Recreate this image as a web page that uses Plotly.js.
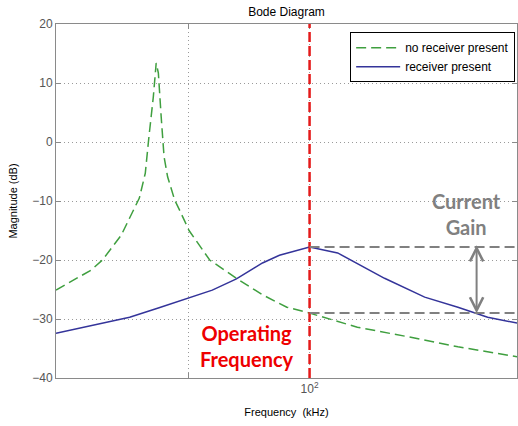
<!DOCTYPE html>
<html>
<head>
<meta charset="utf-8">
<script src="https://cdn.plot.ly/plotly-3.0.1.min.js"></script>
<style>html,body{margin:0;padding:0;background:#fff;}#chart{width:518px;height:426px;}</style>
</head>
<body>
<div id="chart"></div>
<script>
// Frequencies (kHz) and magnitudes (dB)
const freqNoReceiver = [62.7, 66.9, 68.3, 70.7, 73.1, 73.9, 74.4, 75.0, 75.4, 75.7, 76.1, 76.5, 77.0, 78.0, 78.7, 80.1, 83.2, 87.4, 91.7, 95.9, 100, 109.2, 119.8, 131.4, 146.5];
const magNoReceiver  = [-25.1, -21.7, -20.0, -15.8, -9.5, -5.3, 0.9, 7.6, 13.4, 11.7, 4.2, -2.5, -5.9, -9.8, -11.5, -15.0, -20.0, -23.1, -25.9, -28.0, -29.0, -31.4, -33.0, -34.7, -36.4];
const freqReceiver = [62.7, 71.8, 75.8, 78.7, 83.6, 87.4, 91.7, 94.6, 100, 105.3, 114.8, 123.6, 131.4, 138.8, 146.5];
const magReceiver  = [-32.4, -29.7, -28.1, -26.9, -25.1, -23.2, -20.5, -19.2, -17.8, -18.8, -23.1, -26.3, -28.0, -29.7, -30.7];
const seriesNames = ['no receiver present', 'receiver present'];
const operatingFreq = 100;
const gainArrowFreq = 136;
const xTickVals = [80, 100];
const xTickText = ['', '10<sup>2</sup>'];
const yTickVals = [-40, -30, -20, -10, 0, 10, 20];
const xRange = [62.7, 146.5];
const yRange = [-40, 20];

const gainTop = magReceiver[freqReceiver.indexOf(operatingFreq)];
const gainBottom = magNoReceiver[freqNoReceiver.indexOf(operatingFreq)];

const traces = [
  {x: freqNoReceiver, y: magNoReceiver, name: seriesNames[0], mode: 'lines', type: 'scatter',
   line: {color: '#3f9f3f', width: 1.5, dash: '10px,5px'}},
  {x: freqReceiver, y: magReceiver, name: seriesNames[1], mode: 'lines', type: 'scatter',
   line: {color: '#34349a', width: 1.5}}
];

const axisCommon = {
  showline: true, linecolor: '#8a8a8a', linewidth: 1, mirror: 'ticks',
  ticks: 'inside', ticklen: 5, tickcolor: '#8a8a8a',
  showgrid: true, gridcolor: '#9a9a9a', griddash: '1px,3px', gridwidth: 1,
  zeroline: false, tickfont: {family: 'Arial, Liberation Sans, sans-serif', size: 12, color: '#555'}
};

const layout = {
  width: 518, height: 426,
  margin: {l: 56, r: 1, t: 24, b: 48},
  paper_bgcolor: '#fff', plot_bgcolor: '#fff',
  font: {family: 'Arial, Liberation Sans, sans-serif', size: 11, color: '#000'},
  title: {text: 'Bode Diagram', font: {size: 12, color: '#000'}, x: 0.5, xref: 'paper', y: 1, yref: 'paper', yanchor: 'bottom', pad: {b: 8}},
  xaxis: Object.assign({}, axisCommon, {
    type: 'log', range: xRange.map(Math.log10),
    tickvals: xTickVals, ticktext: xTickText,
    title: {text: 'Frequency  (kHz)', font: {size: 11, color: '#000'}, standoff: 12}
  }),
  yaxis: Object.assign({}, axisCommon, {
    range: yRange, tickvals: yTickVals,
    title: {text: 'Magnitude (dB)', font: {size: 11, color: '#000'}, standoff: 12}
  }),
  showlegend: true,
  legend: {x: 0.996, xanchor: 'right', y: 0.977, yanchor: 'top', bgcolor: '#fff',
    bordercolor: '#000', borderwidth: 1, font: {size: 12, color: '#000'}, itemwidth: 44, tracegroupgap: 0},
  shapes: [
    {type: 'line', xref: 'x', yref: 'paper', x0: operatingFreq, x1: operatingFreq, y0: 0, y1: 1,
     line: {color: '#e41a1a', width: 2.5, dash: '10px,4px'}},
    {type: 'line', xref: 'x', yref: 'y', x0: operatingFreq, x1: xRange[1], y0: gainTop, y1: gainTop,
     line: {color: '#808080', width: 2, dash: '10px,5px'}},
    {type: 'line', xref: 'x', yref: 'y', x0: operatingFreq, x1: xRange[1], y0: gainBottom, y1: gainBottom,
     line: {color: '#808080', width: 2, dash: '10px,5px'}}
  ],
  annotations: [
    {xref: 'x', yref: 'y', x: Math.log10(gainArrowFreq), y: gainTop + 0.3,
     axref: 'x', ayref: 'y', ax: Math.log10(gainArrowFreq), ay: gainBottom - 0.3,
     text: '', showarrow: true, arrowhead: 5, startarrowhead: 5, arrowside: 'end+start',
     arrowsize: 1.3, startarrowsize: 1.3, arrowwidth: 2, arrowcolor: '#808080'},
    {xref: 'paper', yref: 'paper', x: 0.8915, y: 0.463, text: '<b>Current<br>Gain</b>', showarrow: false,
     font: {family: 'Lato, sans-serif', size: 20, color: '#808080'}, xanchor: 'center', yanchor: 'middle'},
    {xref: 'paper', yref: 'paper', x: 0.414, y: 0.09, text: '<b>Operating<br>Frequency</b>', showarrow: false,
     font: {family: 'Lato, sans-serif', size: 20, color: '#ee0000'}, xanchor: 'center', yanchor: 'middle'}
  ]
};

Plotly.newPlot('chart', traces, layout, {staticPlot: true, displayModeBar: false});
</script>
</body>
</html>
